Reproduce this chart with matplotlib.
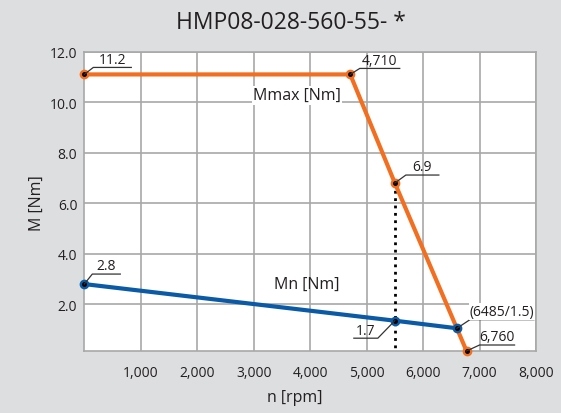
import matplotlib
matplotlib.use("Agg")
import matplotlib.pyplot as plt

plt.rcParams['font.family'] = ['Open Sans', 'DejaVu Sans']

# data
mmax_n = [0, 4710, 5500, 6770]
mmax_m = [11.1, 11.1, 6.8, 0.15]
mn_n = [0, 5500, 6600]
mn_m = [2.8, 1.35, 1.05]
xticks = [1000, 2000, 3000, 4000, 5000, 6000, 7000, 8000]
xticklabels = ['1,000', '2,000', '3,000', '4,000', '5,000', '6,000', '7,000', '8,000']
yticks = [2, 4, 6, 8, 10, 12]
yticklabels = ['2.0', '4.0', '6.0', '8.0', '10.0', '12.0']

# (point, label, dx px, dy px, underline px)
labels = [
    ((mmax_n[0], mmax_m[0]), '11.2', 9, 7, 38),
    ((mmax_n[1], mmax_m[1]), '4,710', 9.5, 6, 40),
    ((mmax_n[2], mmax_m[2]), '6.9', 11, 8, 33),
    ((mmax_n[3], mmax_m[3]), '6,760', 13, 6, 35),
    ((mn_n[0], mn_m[0]), '2.8', 8, 10, 28),
    ((mn_n[1], mn_m[1]), '1.7', -17, -17.5, -24),
    ((mn_n[2], mn_m[2]), '(6485/1.5)', 13, 8.6, 64),
]

orange = '#f26f21'
blue = '#0b5aa6'
bg = '#dddee0'
gridc = '#a8a8a8'
txtc = '#231f20'

fig = plt.figure(figsize=(5.61, 4.14), dpi=100, facecolor=bg)
ax = fig.add_axes([84.3 / 561, 1 - 352 / 414, (536 - 84.3) / 561, (352 - 52.7) / 414])
ax.set_facecolor('white')
ax.set_xlim(0, 8000)
ax.set_ylim(0.15, 12)

ax.set_xticks(xticks)
ax.set_xticklabels(xticklabels)
ax.set_yticks(yticks)
ax.set_yticklabels(yticklabels)
ax.tick_params(length=0, labelsize=10, colors=txtc)
ax.tick_params(axis='x', pad=10)
ax.tick_params(axis='y', pad=5)
ax.grid(True, color=gridc, lw=1.2)
for s in ax.spines.values():
    s.set_color(gridc)
    s.set_linewidth(1.2)

# px -> data scale
sx = 8000 / (536 - 84.3)
sy = (12 - 0.15) / (352 - 52.7)

ax.plot([mmax_n[2], mmax_n[2]], [mmax_m[2], 0.15], color='black', ls=':', lw=2, zorder=3)
ax.plot(mmax_n, mmax_m, color=orange, lw=3, marker='o', ms=6, zorder=4, clip_on=False)
ax.plot(mn_n, mn_m, color=blue, lw=3, marker='o', ms=6, zorder=4, clip_on=False)
ax.plot(mmax_n + mn_n, mmax_m + mn_m, ls='none', marker='o', ms=2.5, color='black', zorder=5, clip_on=False)

for (px, py), txt, dx, dy, w in labels:
    x1 = px + dx * sx
    y1 = py + dy * sy
    x2 = x1 + w * sx
    ax.plot([px, x1, x2], [py, y1, y1], color='#333333', lw=0.9, zorder=6, clip_on=False)
    t = ax.text((x1 + x2) / 2, y1 + 0.6 * sy, txt, ha='center', va='bottom', fontsize=10,
                color=txtc, zorder=6)
    if txt.startswith('('):
        t.set_bbox(dict(facecolor='white', edgecolor='none', pad=0.5))

ax.text(3765, 10.28, 'Mmax [Nm]', ha='center', va='center', fontsize=11.5, color=txtc,
        bbox=dict(facecolor='white', edgecolor='none', pad=1), zorder=6)
ax.text(3940, 2.79, 'Mn [Nm]', ha='center', va='center', fontsize=11.5, color=txtc, zorder=6)

fig.text(291 / 561, 1 - 23 / 414, 'HMP08-028-560-55- *', ha='center', va='center', fontsize=16.5,
         color=txtc)
fig.text(295 / 561, 1 - 398 / 414, 'n [rpm]', ha='center', va='center', fontsize=11.5, color=txtc)
fig.text(37 / 561, 1 - 203 / 414, 'M [Nm]', ha='center', va='center', rotation=90, fontsize=11.5,
         color=txtc)

fig.savefig('out.png', dpi=100, facecolor=bg)
